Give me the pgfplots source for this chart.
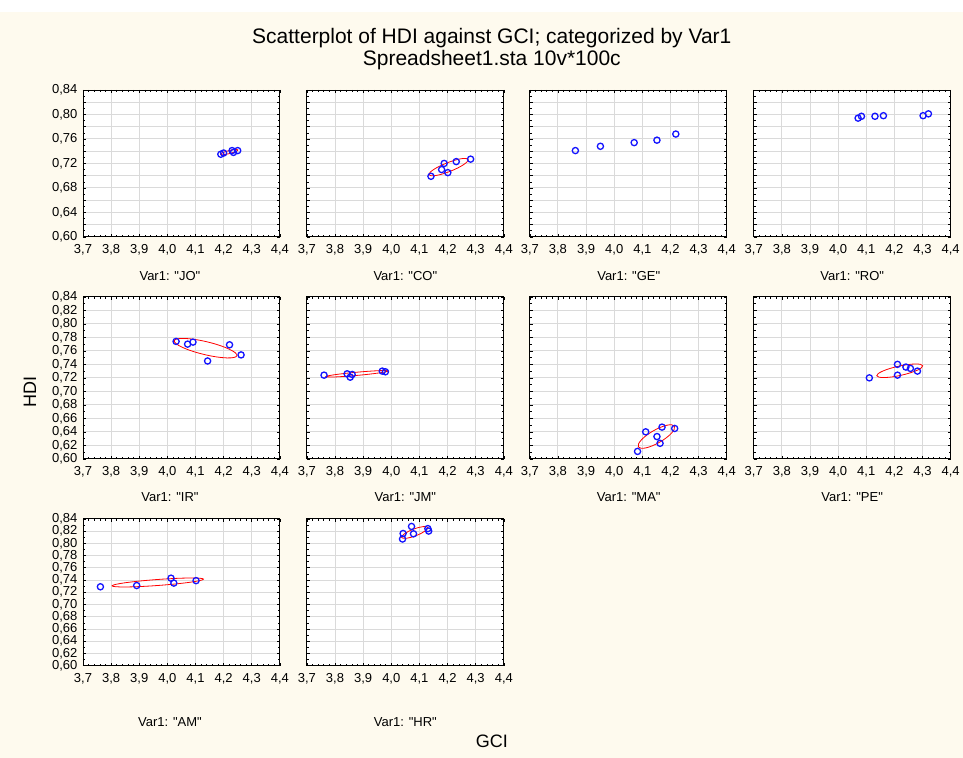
\documentclass[border=0pt]{standalone}
\usepackage{pgfplots}
\pgfplotsset{compat=1.18}
\usepackage{fontspec}
\setmainfont[Ligatures=TeXOff]{Liberation Sans}
\definecolor{cream}{RGB}{254,250,238}
\definecolor{gridc}{RGB}{218,218,218}
\definecolor{ptblue}{RGB}{20,20,255}

\pgfplotsset{
  panel/.style={
    scale only axis, width=197pt,
    xmin=3.7, xmax=4.4, ymin=0.6, ymax=0.84,
    xtick={3.7,3.8,3.9,4.0,4.1,4.2,4.3,4.4},
    xticklabels={{3,7},{3,8},{3,9},{4,0},{4,1},{4,2},{4,3},{4,4}},
    ytick={0.60,0.62,0.64,0.66,0.68,0.70,0.72,0.74,0.76,0.78,0.80,0.82,0.84},
    minor x tick num=4, minor y tick num=1,
    xmajorgrids, ymajorgrids,
    grid style={gridc, line width=0.9pt},
    tick align=inside, major tick length=3pt, minor tick length=2pt,
    tick style={black, line width=0.6pt},
    axis line style={black, line width=0.9pt},
    axis background/.style={fill=white},
    ticklabel style={font=\fontsize{13}{14}\selectfont, black},
    xticklabel style={yshift=-4pt},
    yticklabel style={xshift=-2pt},
    clip=true,
  },
  noy/.style={yticklabels={}},
  yrow1/.style={yticklabels={{0,60},{},{0,64},{},{0,68},{},{0,72},{},{0,76},{},{0,80},{},{0,84}}},
  yrowall/.style={yticklabels={{0,60},{0,62},{0,64},{0,66},{0,68},{0,70},{0,72},{0,74},{0,76},{0,78},{0,80},{0,82},{0,84}}},
  pts/.style={only marks, mark=o, mark size=3.1pt, mark options={ptblue, line width=1.3pt, fill=white}},
}
\newcommand{\ellip}[5]{\draw[red, line width=0.8pt, rotate around={#5:(axis cs:#1,#2)}] (axis cs:#1,#2) ellipse [x radius=#3pt, y radius=#4pt];}

\begin{document}
\begin{tikzpicture}
\fill[white] (0,0) rectangle (963pt,758pt);
\fill[cream] (0,0) rectangle (963pt,746pt);

% Row 1
\begin{axis}[panel, yrow1, height=147pt, at={(83pt,668pt)}, anchor=north west]
\addplot[pts] coordinates {(4.190,0.735) (4.200,0.737) (4.230,0.741) (4.235,0.738) (4.250,0.741)};
\ellip{4.220}{0.7385}{8.9}{1.5}{14}
\end{axis}
\begin{axis}[panel, noy, height=147pt, at={(307pt,668pt)}, anchor=north west]
\addplot[pts] coordinates {(4.141,0.699) (4.179,0.710) (4.188,0.720) (4.201,0.705) (4.231,0.723) (4.282,0.727)};
\ellip{4.2037}{0.714}{21}{4.5}{21.4}
\end{axis}
\begin{axis}[panel, noy, height=147pt, at={(530pt,668pt)}, anchor=north west]
\addplot[pts] coordinates {(3.862,0.741) (3.951,0.748) (4.071,0.754) (4.152,0.758) (4.219,0.768)};
\end{axis}
\begin{axis}[panel, noy, height=147pt, at={(754pt,668pt)}, anchor=north west]
\addplot[pts] coordinates {(4.071,0.794) (4.083,0.797) (4.131,0.797) (4.161,0.798) (4.302,0.798) (4.321,0.801)};
\end{axis}

% Row 2
\begin{axis}[panel, yrowall, height=162pt, at={(83pt,461pt)}, anchor=north west]
\addplot[pts] coordinates {(4.031,0.774) (4.072,0.770) (4.091,0.773) (4.143,0.745) (4.221,0.769) (4.262,0.754)};
\ellip{4.136}{0.764}{32.2}{6.5}{-13.4}
\end{axis}
\begin{axis}[panel, noy, height=162pt, at={(307pt,461pt)}, anchor=north west]
\addplot[pts] coordinates {(3.761,0.724) (3.843,0.726) (3.854,0.721) (3.861,0.725) (3.968,0.730) (3.979,0.729)};
\ellip{3.878}{0.726}{31.3}{1.6}{5.2}
\end{axis}
\begin{axis}[panel, noy, height=162pt, at={(530pt,461pt)}, anchor=north west]
\addplot[pts] coordinates {(4.083,0.611) (4.112,0.640) (4.152,0.633) (4.163,0.623) (4.170,0.647) (4.215,0.645)};
\ellip{4.150}{0.633}{20.8}{6.5}{29.9}
\end{axis}
\begin{axis}[panel, noy, height=162pt, at={(754pt,461pt)}, anchor=north west]
\addplot[pts] coordinates {(4.111,0.720) (4.211,0.740) (4.211,0.724) (4.241,0.736) (4.257,0.734) (4.282,0.730)};
\ellip{4.219}{0.7305}{23.5}{4.7}{12.3}
\end{axis}

% Row 3
\begin{axis}[panel, yrowall, height=147pt, at={(83pt,239pt)}, anchor=north west]
\addplot[pts] coordinates {(3.762,0.729) (3.891,0.731) (4.013,0.743) (4.023,0.735) (4.102,0.739)};
\ellip{3.966}{0.736}{45.8}{3}{4.2}
\end{axis}
\begin{axis}[panel, noy, height=147pt, at={(307pt,239pt)}, anchor=north west]
\addplot[pts] coordinates {(4.040,0.807) (4.042,0.816) (4.072,0.8275) (4.079,0.8155) (4.130,0.824) (4.133,0.820)};
\ellip{4.083}{0.8177}{13.9}{3.5}{21}
\end{axis}

% Texts
\node at (492pt,720pt) {\fontsize{21}{24}\selectfont Scatterplot of HDI against GCI; categorized by Var1};
\node at (492pt,698pt) {\fontsize{21}{24}\selectfont Spreadsheet1.sta 10v*100c};
\node[rotate=90] at (30pt,366pt) {\fontsize{18}{20}\selectfont HDI};
\node at (492pt,16pt) {\fontsize{18}{20}\selectfont GCI};

\node at (170pt,482pt) {\fontsize{13}{15}\selectfont Var1: "JO"};
\node at (405.5pt,482pt) {\fontsize{13}{15}\selectfont Var1: "CO"};
\node at (629pt,482pt) {\fontsize{13}{15}\selectfont Var1: "GE"};
\node at (852.5pt,482pt) {\fontsize{13}{15}\selectfont Var1: "RO"};
\node at (170pt,261pt) {\fontsize{13}{15}\selectfont Var1: "IR"};
\node at (405.5pt,261pt) {\fontsize{13}{15}\selectfont Var1: "JM"};
\node at (629pt,261pt) {\fontsize{13}{15}\selectfont Var1: "MA"};
\node at (852.5pt,261pt) {\fontsize{13}{15}\selectfont Var1: "PE"};
\node at (170pt,36pt) {\fontsize{13}{15}\selectfont Var1: "AM"};
\node at (405.5pt,36pt) {\fontsize{13}{15}\selectfont Var1: "HR"};
\end{tikzpicture}
\end{document}
